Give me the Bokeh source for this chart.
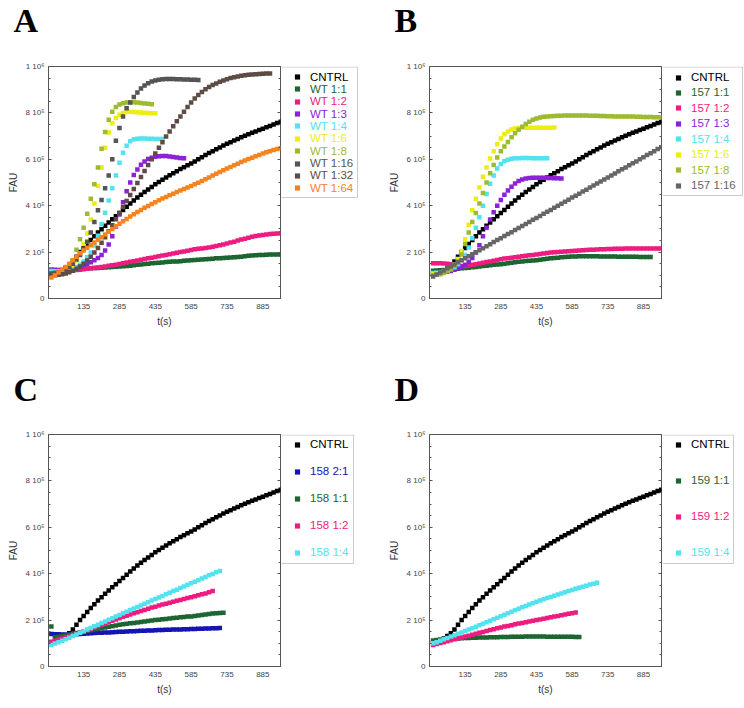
from bokeh.plotting import figure
from bokeh.models import (Range1d, FixedTicker, LinearAxis, Legend, LegendItem,
                          CustomJSTickFormatter, BoxAnnotation)
from bokeh.layouts import column, row
from bokeh.embed import file_html
from bokeh.resources import INLINE

# sample times (s)
TIME = [0, 15, 30, 45, 60, 75, 90, 105, 120, 135, 150, 165, 180, 195, 210, 225,
        240, 255, 270, 285, 300, 315, 330, 345, 360, 375, 390, 405, 420, 435, 450,
        465, 480, 495, 510, 525, 540, 555, 570, 585, 600, 615, 630, 645, 660, 675,
        690, 705, 720, 735, 750, 765, 780, 795, 810, 825, 840, 855, 870, 885, 900,
        915, 930, 945, 960]

X_TICKS = [135, 285, 435, 585, 735, 885]
Y_TICKS = [0, 200, 400, 600, 800, 1000]          # in 10^3 FAU
Y_TICK_LABELS = ["0", "2 10\u2075", "4 10\u2075", "6 10\u2075", "8 10\u2075", "1 10\u2076"]

# ---- values in 10^3 FAU ----
CNTRL = [105, 108, 113, 121, 131, 143, 160, 180, 200, 218, 235, 252, 268, 284, 299, 314,
         328, 342, 355, 368, 382, 396, 409, 422, 435, 447, 459, 470, 481, 492, 502, 512,
         522, 531, 540, 549, 558, 566, 574, 582, 591, 600, 609, 618, 627, 635, 643, 651,
         659, 667, 674, 681, 688, 695, 702, 708, 714, 720, 726, 732, 738, 744, 750, 756, 762]

# panel A (WT)
WT_1_1 = [122, 122, 122, 123, 123, 124, 125, 126, 127, 128, 129, 130, 131, 132, 133, 134,
          135, 136, 137, 138, 139, 140, 141, 143, 145, 147, 149, 150, 152, 153, 154, 155,
          157, 158, 159, 160, 161, 163, 164, 165, 166, 167, 168, 169, 170, 171, 173, 174,
          175, 176, 177, 178, 179, 180, 182, 184, 185, 186, 187, 188, 189, 190, 190, 190, 190]
WT_1_2 = [116, 117, 118, 119, 120, 121, 122, 123, 124, 126, 128, 130, 132, 134, 136, 138,
          141, 143, 146, 149, 152, 155, 158, 161, 164, 167, 170, 173, 176, 179, 182, 185,
          188, 191, 194, 197, 200, 203, 206, 209, 212, 214, 216, 218, 220, 223, 226, 229,
          233, 237, 241, 245, 250, 254, 258, 262, 266, 269, 272, 274, 276, 278, 279, 280, 281]
WT_1_3 = [125, 124, 123, 123, 124, 126, 129, 133, 138, 143, 149, 156, 165, 175, 188, 207,
          233, 268, 310, 362, 415, 462, 500, 532, 556, 576, 591, 601, 607, 611, 613, 614,
          614, 612, 610, 608, 606, 604]
WT_1_4 = [118, 117, 117, 117, 118, 120, 125, 132, 145, 160, 178, 198, 228, 270, 320, 370,
          422, 475, 530, 585, 628, 658, 678, 686, 689, 690, 690, 689, 689, 688, 688, 687]
WT_1_6 = [104, 105, 107, 110, 116, 126, 142, 165, 195, 235, 280, 340, 410, 485, 565, 650,
          715, 755, 778, 792, 800, 804, 805, 804, 803, 802, 801, 800, 799, 798]
WT_1_8 = [100, 102, 106, 113, 123, 140, 165, 210, 255, 305, 365, 430, 492, 565, 645, 718,
          770, 805, 825, 836, 842, 845, 846, 846, 845, 843, 841, 839, 837]
WT_1_16 = [108, 110, 113, 118, 125, 135, 150, 168, 188, 212, 245, 285, 330, 380, 425, 475,
           530, 600, 680, 735, 785, 820, 845, 868, 888, 905, 918, 928, 935, 940, 943, 945,
           946, 946, 946, 945, 945, 944, 944, 943, 943, 942]
WT_1_32 = [99, 100, 102, 104, 108, 113, 120, 128, 138, 150, 164, 180, 198, 218, 240, 264,
           290, 316, 342, 368, 394, 420, 446, 472, 498, 524, 550, 575, 600, 625, 650, 674,
           698, 720, 742, 764, 785, 805, 825, 845, 862, 877, 890, 902, 912, 920, 927, 934,
           940, 945, 950, 954, 957, 960, 962, 964, 966, 967, 968, 969, 970, 970]
WT_1_64 = [90, 100, 112, 124, 136, 150, 165, 180, 195, 207, 219, 230, 241, 253, 264, 276,
           288, 300, 311, 322, 333, 343, 353, 363, 373, 382, 391, 399, 407, 415, 423, 431,
           438, 445, 452, 459, 466, 472, 478, 485, 492, 499, 507, 514, 522, 530, 538, 545,
           553, 560, 567, 574, 581, 588, 595, 601, 607, 613, 619, 625, 630, 635, 640, 644, 648]

# panel B (157)
M157_1_1 = [120, 121, 122, 123, 124, 125, 127, 128, 130, 131, 133, 135, 136, 138, 140, 141,
            143, 145, 147, 148, 150, 152, 154, 156, 158, 160, 162, 163, 164, 165, 167, 169,
            171, 173, 175, 176, 178, 179, 180, 181, 181, 182, 182, 182, 182, 182, 182, 181,
            181, 181, 181, 181, 180, 180, 180, 180, 180, 180, 179, 179, 179, 179]
M157_1_2 = [152, 152, 152, 151, 150, 148, 145, 142, 140, 140, 142, 145, 148, 151, 154, 157,
            160, 163, 166, 169, 172, 174, 176, 178, 180, 182, 184, 186, 188, 190, 192, 194,
            196, 198, 199, 200, 202, 203, 204, 205, 206, 207, 208, 209, 210, 210, 211, 212,
            212, 213, 213, 214, 214, 214, 215, 215, 215, 215, 216, 216, 216, 216, 216, 216, 216]
M157_1_3 = [105, 107, 109, 112, 115, 119, 124, 130, 137, 146, 158, 175, 198, 230, 268, 305,
            340, 372, 400, 425, 447, 465, 482, 496, 506, 513, 517, 519, 520, 520, 520, 520,
            519, 519, 518, 518, 517]
M157_1_4 = [110, 111, 113, 116, 120, 126, 135, 148, 165, 188, 220, 260, 305, 350, 400, 450,
            495, 530, 560, 580, 592, 598, 602, 604, 605, 606, 606, 606, 605, 605, 605, 605, 604]
M157_1_6 = [105, 107, 110, 115, 122, 132, 148, 170, 205, 255, 318, 380, 430, 478, 525, 565,
            603, 635, 665, 690, 708, 720, 728, 733, 735, 736, 736, 736, 736, 736, 736, 736,
            736, 736, 737]
M157_1_8 = [100, 102, 105, 110, 117, 127, 140, 160, 190, 235, 285, 330, 368, 410, 455, 500,
            540, 575, 608, 635, 655, 675, 695, 712, 727, 740, 752, 762, 770, 776, 780, 783,
            785, 786, 787, 788, 788, 789, 789, 789, 789, 789, 789, 789, 788, 788, 788, 787,
            787, 786, 786, 785, 785, 785, 784, 784, 784, 783, 783, 782, 782, 782, 781, 781, 780]
M157_1_16 = [95, 103, 112, 121, 130, 138, 147, 156, 165, 173, 182, 191, 199, 208, 217, 225,
             234, 243, 252, 260, 269, 278, 286, 295, 304, 313, 321, 330, 339, 347, 356, 365,
             374, 382, 391, 400, 408, 417, 426, 435, 443, 452, 461, 469, 478, 487, 496, 504,
             513, 522, 530, 539, 548, 557, 565, 574, 583, 591, 600, 609, 618, 626, 635, 644, 652]

# panel C (158)
M158_2_1 = [140, 139, 139, 138, 138, 138, 138, 139, 140, 141, 142, 143, 144, 145, 146, 147,
            147, 148, 149, 150, 150, 151, 152, 152, 153, 154, 154, 155, 155, 156, 157, 157,
            158, 158, 159, 160, 160, 161, 161, 162, 162, 163, 163, 164, 164, 165, 165, 166]
M158_1_1 = [172, 126, 128, 131, 134, 137, 140, 144, 147, 150, 153, 156, 159, 162, 165, 168,
            171, 174, 177, 180, 182, 184, 186, 188, 190, 192, 194, 196, 198, 200, 202, 204,
            205, 207, 209, 210, 212, 213, 215, 216, 218, 220, 222, 224, 226, 228, 230, 231, 232]
M158_1_2 = [107, 111, 116, 121, 126, 131, 136, 141, 146, 151, 157, 162, 168, 174, 180, 186,
            192, 197, 203, 208, 214, 219, 224, 229, 234, 239, 244, 249, 254, 258, 263, 267,
            271, 275, 279, 283, 287, 291, 295, 299, 303, 307, 311, 315, 320, 325]
M158_1_4 = [93, 99, 105, 111, 117, 124, 131, 138, 145, 152, 159, 166, 173, 180, 187, 194,
            201, 208, 215, 222, 229, 236, 243, 250, 257, 263, 270, 277, 284, 291, 297, 304,
            311, 318, 325, 331, 338, 345, 352, 359, 365, 372, 379, 386, 393, 399, 406, 412]

# panel D (159)
M159_1_1 = [112, 114, 116, 117, 118, 119, 120, 121, 122, 123, 123, 124, 124, 125, 125, 125,
            126, 126, 126, 127, 127, 127, 128, 128, 128, 128, 129, 129, 129, 129, 129, 129,
            128, 128, 128, 128, 128, 128, 128, 128, 127, 127]
M159_1_2 = [93, 97, 101, 105, 109, 113, 117, 121, 125, 129, 133, 137, 141, 145, 149, 153,
            157, 161, 165, 168, 172, 175, 178, 182, 185, 188, 191, 194, 197, 200, 203, 206,
            209, 212, 215, 218, 221, 224, 227, 230, 233]
M159_1_4 = [100, 105, 111, 117, 123, 129, 135, 141, 147, 153, 159, 165, 171, 178, 184, 191,
            197, 204, 210, 217, 223, 229, 236, 242, 249, 255, 261, 267, 273, 279, 284, 290,
            295, 300, 305, 310, 315, 320, 325, 330, 335, 339, 344, 348, 353, 357, 361]

BLACK = "#000000"
GREEN = "#1e6631"
PINK = "#ee1c80"
PURPLE = "#8c22d8"
CYAN = "#52e3ef"
YELLOW = "#eded12"
OLIVE = "#9dbb30"
GREY = "#555555"
GREY_B = "#666666"
BROWN = "#5f4b45"
ORANGE = "#f5841f"
BLUE = "#1515b5"

PANEL_A = [("CNTRL", CNTRL, BLACK), ("WT 1:1", WT_1_1, GREEN), ("WT 1:2", WT_1_2, PINK),
           ("WT 1:3", WT_1_3, PURPLE), ("WT 1:4", WT_1_4, CYAN), ("WT 1:6", WT_1_6, YELLOW),
           ("WT 1:8", WT_1_8, OLIVE), ("WT 1:16", WT_1_16, GREY), ("WT 1:32", WT_1_32, BROWN),
           ("WT 1:64", WT_1_64, ORANGE)]
PANEL_B = [("CNTRL", CNTRL, BLACK), ("157 1:1", M157_1_1, GREEN), ("157 1:2", M157_1_2, PINK),
           ("157 1:3", M157_1_3, PURPLE), ("157 1:4", M157_1_4, CYAN), ("157 1:6", M157_1_6, YELLOW),
           ("157 1:8", M157_1_8, OLIVE), ("157 1:16", M157_1_16, GREY_B)]
PANEL_C = [("CNTRL", CNTRL, BLACK), ("158 2:1", M158_2_1, BLUE), ("158 1:1", M158_1_1, GREEN),
           ("158 1:2", M158_1_2, PINK), ("158 1:4", M158_1_4, CYAN)]
PANEL_D = [("CNTRL", CNTRL, BLACK), ("159 1:1", M159_1_1, GREEN), ("159 1:2", M159_1_2, PINK),
           ("159 1:4", M159_1_4, CYAN)]

FONT = "Liberation Sans"
AXC = "#555555"
FW = 232  # frame width / height in px
MARKER = "square"
NAN = float("nan")


def make_letter(letter, left, height, standoff):
    lf = figure(width=372, height=height, output_backend="svg", toolbar_location=None,
                x_range=Range1d(0, 1), y_range=Range1d(0, 1),
                x_axis_location=None, y_axis_location=None,
                min_border_left=left, min_border_right=372 - left - FW,
                min_border_top=0, min_border_bottom=0,
                background_fill_color="white", border_fill_color="white")
    lf.grid.visible = False
    lf.outline_line_color = None
    lf.title.text = letter
    lf.title.text_font = "Liberation Serif"
    lf.title.text_font_style = "bold"
    lf.title.text_font_size = "34px"
    lf.title.text_color = "black"
    lf.title.align = "left"
    lf.title.vertical_align = "top"
    lf.title.offset = -35
    lf.title.standoff = standoff
    return lf


def make_plot(entries, x_range, left, top, height):
    bottom = height - top - FW
    p = figure(width=left + FW + 1, height=height, output_backend="svg", toolbar_location=None,
               x_range=Range1d(*x_range), y_range=Range1d(0, 1000),
               min_border_left=left, min_border_right=1,
               min_border_top=top, min_border_bottom=bottom,
               background_fill_color="white", border_fill_color="white")
    p.grid.visible = False
    p.outline_line_color = AXC
    p.outline_line_width = 1

    xa = p.xaxis[0]
    xa.ticker = FixedTicker(ticks=X_TICKS)
    xa.axis_label = "t(s)"
    xa.major_tick_in = 0
    xa.major_tick_out = 0
    xa.minor_tick_in = 0
    xa.minor_tick_out = 0
    xa.major_label_standoff = 5
    xa.axis_label_standoff = 4

    ya = p.yaxis[0]
    ya.ticker = FixedTicker(ticks=Y_TICKS, minor_ticks=list(range(0, 1001, 50)))
    ya.major_label_overrides = {t: s for t, s in zip(Y_TICKS, Y_TICK_LABELS)}
    ya.axis_label = "FAU"
    ya.major_tick_in = 3
    ya.major_tick_out = 0
    ya.minor_tick_in = 2
    ya.minor_tick_out = 0
    ya.major_label_standoff = 4
    ya.axis_label_standoff = 4

    for ax in (xa, ya):
        ax.axis_line_color = AXC
        ax.major_label_text_font = FONT
        ax.major_label_text_font_size = "8px"
        ax.major_label_text_color = "#444444"
        ax.axis_label_text_font = FONT
        ax.axis_label_text_font_size = "10px"
        ax.axis_label_text_font_style = "normal"
        ax.axis_label_text_color = "#333333"
        ax.major_tick_line_color = AXC
        ax.minor_tick_line_color = AXC

    ra = LinearAxis(ticker=FixedTicker(ticks=Y_TICKS, minor_ticks=list(range(0, 1001, 50))),
                    formatter=CustomJSTickFormatter(code="return ''"),
                    major_label_text_font_size="0px",
                    major_tick_in=3, major_tick_out=0, minor_tick_in=2, minor_tick_out=0,
                    major_label_standoff=0, axis_line_color=None,
                    major_tick_line_color=AXC, minor_tick_line_color=AXC)
    p.add_layout(ra, "right")

    for name, vals, color in entries:
        p.scatter(TIME[:len(vals)], vals, marker=MARKER, size=4.5,
                  fill_color=color, line_color=None)
    return p


def make_legend(entries, width, height, top, box_w, box_h, first, pitch):
    bottom = height - top - FW
    lp = figure(width=width, height=height, output_backend="svg", toolbar_location=None,
                x_range=Range1d(0, 1), y_range=Range1d(0, 1),
                x_axis_location=None, y_axis_location=None,
                min_border_left=0, min_border_right=0,
                min_border_top=top, min_border_bottom=bottom,
                background_fill_color="white", border_fill_color="white")
    lp.grid.visible = False
    lp.outline_line_color = None
    lp.add_layout(BoxAnnotation(left=-2, right=box_w, top=FW - 0.5, bottom=FW - box_h,
                                left_units="screen", right_units="screen",
                                top_units="screen", bottom_units="screen",
                                fill_color="white", fill_alpha=1.0,
                                line_color=AXC, line_width=1))
    for i, (name, vals, color) in enumerate(entries):
        # legend proxy glyph (NaN point, never drawn in the frame)
        r = lp.scatter(x=[NAN], y=[NAN], marker=MARKER, fill_color=color, line_color=None)
        center = FW - (first + pitch * i)
        lg = Legend(items=[LegendItem(label=name, renderers=[r])],
                    location=(8, center - 6.5),
                    padding=0, margin=0, spacing=0,
                    border_line_color=None, background_fill_alpha=0,
                    glyph_width=16, glyph_height=13, label_height=13,
                    label_standoff=5, label_text_font=FONT,
                    label_text_font_size="11.5px", label_text_color=color)
        lp.add_layout(lg)
    return lp


# rows: letters (0-44), plots A/B (44-370), letters (370-412), plots C/D (412-708)
LET1_H, PLOT1_H, PLOT1_TOP = 44, 326, 22
LET2_H, PLOT2_H, PLOT2_TOP = 42, 296, 22

tA = make_letter("A", 48, LET1_H, 2)
tB = make_letter("B", 57, LET1_H, 2)
pA = make_plot(PANEL_A, (-12, 959), 48, PLOT1_TOP, PLOT1_H)
lA = make_legend(PANEL_A, 372 - (48 + FW + 1), PLOT1_H, PLOT1_TOP, 76, 131, 10.5, 12.36)
pB = make_plot(PANEL_B, (-15, 961), 57, PLOT1_TOP, PLOT1_H)
lB = make_legend(PANEL_B, 372 - (57 + FW + 1), PLOT1_H, PLOT1_TOP, 80, 129, 11.0, 15.43)

tC = make_letter("C", 48, LET2_H, 0)
tD = make_letter("D", 57, LET2_H, 0)
pC = make_plot(PANEL_C, (-12, 959), 48, PLOT2_TOP, PLOT2_H)
lC = make_legend(PANEL_C, 372 - (48 + FW + 1), PLOT2_H, PLOT2_TOP, 72, 129, 10.3, 27.0)
pD = make_plot(PANEL_D, (-15, 961), 57, PLOT2_TOP, PLOT2_H)
lD = make_legend(PANEL_D, 372 - (57 + FW + 1), PLOT2_H, PLOT2_TOP, 71, 129, 10.3, 36.0)

layout = column(row(tA, tB), row(pA, lA, pB, lB),
                row(tC, tD), row(pC, lC, pD, lD))
open("out.html", "w").write(file_html(layout, INLINE))
